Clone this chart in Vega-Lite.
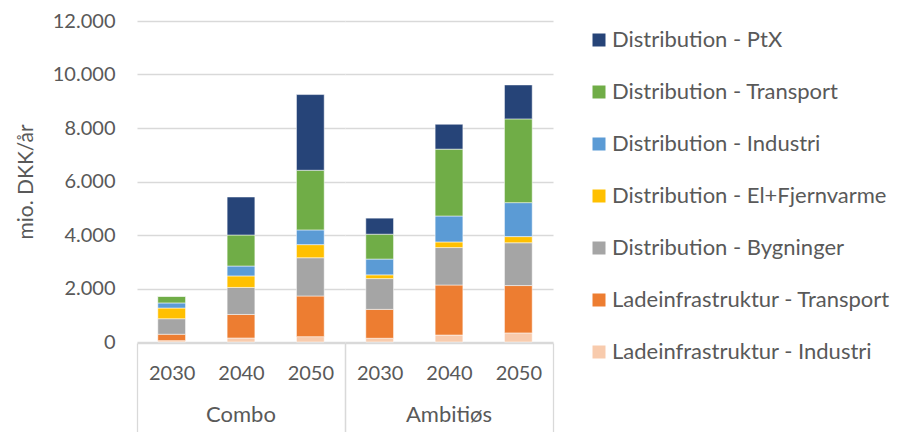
{
  "$schema": "https://vega.github.io/schema/vega-lite/v6.json",
  "background": "white",
  "padding": {"left": 15, "top": 11, "right": 5, "bottom": 0},
  "config": {
    "font": "Lato",
    "view": {"stroke": null},
    "legend": {"padding": 8}
  },
  "data": {
    "values": [
      {"scenario": "Combo", "year": "2030", "serie": "Ladeinfrastruktur - Industri", "value": 50},
      {"scenario": "Combo", "year": "2030", "serie": "Ladeinfrastruktur - Transport", "value": 240},
      {"scenario": "Combo", "year": "2030", "serie": "Distribution - Bygninger", "value": 580},
      {"scenario": "Combo", "year": "2030", "serie": "Distribution - El+Fjernvarme", "value": 400},
      {"scenario": "Combo", "year": "2030", "serie": "Distribution - Industri", "value": 190},
      {"scenario": "Combo", "year": "2030", "serie": "Distribution - Transport", "value": 250},
      {"scenario": "Combo", "year": "2030", "serie": "Distribution - PtX", "value": 0},
      {"scenario": "Combo", "year": "2040", "serie": "Ladeinfrastruktur - Industri", "value": 150},
      {"scenario": "Combo", "year": "2040", "serie": "Ladeinfrastruktur - Transport", "value": 880},
      {"scenario": "Combo", "year": "2040", "serie": "Distribution - Bygninger", "value": 1010},
      {"scenario": "Combo", "year": "2040", "serie": "Distribution - El+Fjernvarme", "value": 430},
      {"scenario": "Combo", "year": "2040", "serie": "Distribution - Industri", "value": 370},
      {"scenario": "Combo", "year": "2040", "serie": "Distribution - Transport", "value": 1160},
      {"scenario": "Combo", "year": "2040", "serie": "Distribution - PtX", "value": 1420},
      {"scenario": "Combo", "year": "2050", "serie": "Ladeinfrastruktur - Industri", "value": 200},
      {"scenario": "Combo", "year": "2050", "serie": "Ladeinfrastruktur - Transport", "value": 1520},
      {"scenario": "Combo", "year": "2050", "serie": "Distribution - Bygninger", "value": 1430},
      {"scenario": "Combo", "year": "2050", "serie": "Distribution - El+Fjernvarme", "value": 490},
      {"scenario": "Combo", "year": "2050", "serie": "Distribution - Industri", "value": 550},
      {"scenario": "Combo", "year": "2050", "serie": "Distribution - Transport", "value": 2230},
      {"scenario": "Combo", "year": "2050", "serie": "Distribution - PtX", "value": 2830},
      {"scenario": "Ambitiøs", "year": "2030", "serie": "Ladeinfrastruktur - Industri", "value": 140},
      {"scenario": "Ambitiøs", "year": "2030", "serie": "Ladeinfrastruktur - Transport", "value": 1080},
      {"scenario": "Ambitiøs", "year": "2030", "serie": "Distribution - Bygninger", "value": 1150},
      {"scenario": "Ambitiøs", "year": "2030", "serie": "Distribution - El+Fjernvarme", "value": 140},
      {"scenario": "Ambitiøs", "year": "2030", "serie": "Distribution - Industri", "value": 590},
      {"scenario": "Ambitiøs", "year": "2030", "serie": "Distribution - Transport", "value": 930},
      {"scenario": "Ambitiøs", "year": "2030", "serie": "Distribution - PtX", "value": 600},
      {"scenario": "Ambitiøs", "year": "2040", "serie": "Ladeinfrastruktur - Industri", "value": 260},
      {"scenario": "Ambitiøs", "year": "2040", "serie": "Ladeinfrastruktur - Transport", "value": 1870},
      {"scenario": "Ambitiøs", "year": "2040", "serie": "Distribution - Bygninger", "value": 1400},
      {"scenario": "Ambitiøs", "year": "2040", "serie": "Distribution - El+Fjernvarme", "value": 210},
      {"scenario": "Ambitiøs", "year": "2040", "serie": "Distribution - Industri", "value": 970},
      {"scenario": "Ambitiøs", "year": "2040", "serie": "Distribution - Transport", "value": 2500},
      {"scenario": "Ambitiøs", "year": "2040", "serie": "Distribution - PtX", "value": 930},
      {"scenario": "Ambitiøs", "year": "2050", "serie": "Ladeinfrastruktur - Industri", "value": 340},
      {"scenario": "Ambitiøs", "year": "2050", "serie": "Ladeinfrastruktur - Transport", "value": 1770},
      {"scenario": "Ambitiøs", "year": "2050", "serie": "Distribution - Bygninger", "value": 1600},
      {"scenario": "Ambitiøs", "year": "2050", "serie": "Distribution - El+Fjernvarme", "value": 230},
      {"scenario": "Ambitiøs", "year": "2050", "serie": "Distribution - Industri", "value": 1270},
      {"scenario": "Ambitiøs", "year": "2050", "serie": "Distribution - Transport", "value": 3130},
      {"scenario": "Ambitiøs", "year": "2050", "serie": "Distribution - PtX", "value": 1270}
    ]
  },
  "transform": [
    {"calculate": "indexof(['Ladeinfrastruktur - Industri','Ladeinfrastruktur - Transport','Distribution - Bygninger','Distribution - El+Fjernvarme','Distribution - Industri','Distribution - Transport','Distribution - PtX'], datum.serie)", "as": "stackOrder"}
  ],
  "facet": {
    "column": {
      "field": "scenario", "type": "nominal", "sort": ["Combo", "Ambitiøs"],
      "header": {"title": null, "labelOrient": "bottom", "labelFontSize": 22, "labelColor": "#595959", "labelPadding": -29}
    }
  },
  "spacing": 0,
  "spec": {
    "width": 208,
    "height": 321,
    "mark": {"type": "bar", "stroke": "white", "strokeWidth": 0.5, "width": {"band": 0.4}},
    "encoding": {
      "x": {
        "field": "year", "type": "ordinal",
        "scale": {"paddingInner": 0, "paddingOuter": 0},
        "axis": {
          "title": null, "labelAngle": 0, "labelFontSize": 20, "labelColor": "#595959",
          "domainColor": "#d9d9d9", "domainWidth": 1.3,
          "tickBand": "extent", "tickSize": 90, "tickColor": "#d9d9d9", "tickWidth": 1.3,
          "tickOpacity": {"condition": {"test": "datum.index < 0 || datum.value == 2050", "value": 1}, "value": 0},
          "labelPadding": -70
        }
      },
      "y": {
        "field": "value", "type": "quantitative", "stack": "zero",
        "scale": {"domain": [0, 12000]},
        "axis": {
          "title": "mio. DKK/år", "titleFontSize": 21, "titleFontWeight": "normal", "titleColor": "#595959", "titlePadding": 16,
          "values": [0, 2000, 4000, 6000, 8000, 10000, 12000],
          "labelExpr": "replace(format(datum.value, ','), ',', '.')",
          "labelFontSize": 20, "labelColor": "#595959", "labelPadding": 22,
          "domain": false, "ticks": false,
          "gridColor": "#d9d9d9", "gridWidth": 1.3
        }
      },
      "color": {
        "field": "serie", "type": "nominal",
        "scale": {
          "domain": ["Distribution - PtX", "Distribution - Transport", "Distribution - Industri", "Distribution - El+Fjernvarme", "Distribution - Bygninger", "Ladeinfrastruktur - Transport", "Ladeinfrastruktur - Industri"],
          "range": ["#264478", "#70AD47", "#5B9BD5", "#FFC000", "#A5A5A5", "#ED7D31", "#F8CBAD"]
        },
        "legend": {
          "title": null, "symbolType": "square", "symbolSize": 169, "symbolStrokeWidth": 0,
          "labelFontSize": 22, "labelColor": "#595959", "labelOffset": 2, "labelLimit": 0,
          "rowPadding": 30, "offset": 26
        }
      },
      "order": {"field": "stackOrder", "type": "quantitative"}
    }
  }
}
